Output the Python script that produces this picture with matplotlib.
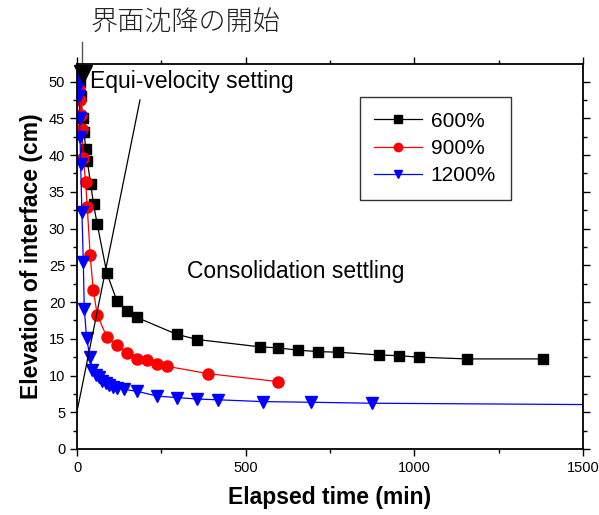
import matplotlib
matplotlib.use("Agg")
import matplotlib.pyplot as plt
from matplotlib.ticker import MultipleLocator

plt.rcParams['font.family'] = ['Liberation Sans', 'DejaVu Sans']

# 600 %
t600 = [3, 8, 12, 16.7, 21.6, 25.6, 30.5, 40.4, 49, 60, 88.6, 118, 148.5, 178,
        296, 357, 543, 597, 655, 715, 774, 895, 954, 1014, 1156, 1382]
h600 = [51.0, 50.0, 48.0, 45.0, 43.1, 40.8, 39.2, 36.1, 33.3, 30.6, 23.9, 20.2, 18.8, 17.9,
        15.6, 14.9, 13.9, 13.76, 13.45, 13.26, 13.17, 12.8, 12.7, 12.5, 12.26, 12.26]

# 900 %
t900 = [3, 6, 9, 12, 14.8, 18.7, 25.6, 30.5, 39, 48, 60, 88.6, 119, 148.5, 178,
        208.6, 238, 266.7, 387.7, 597]
h900 = [50.5, 49.0, 47.5, 45.5, 43.5, 39.6, 36.3, 32.9, 26.4, 21.7, 18.3, 15.2, 14.1, 13.1, 12.3,
        12.1, 11.6, 11.26, 10.26, 9.17]

# 1200 %
t1200 = [2, 5, 6.8, 7.5, 8.9, 10.8, 14.5, 18.7, 21.6, 28.5, 38.4, 45, 55, 65, 74.8, 85.6,
         95.5, 108, 120, 139.7, 178, 237, 296, 357, 417, 552, 695, 874]
h1200 = [50.5, 49.5, 48.0, 45.0, 42.5, 38.8, 32.3, 25.5, 19.1, 15.1, 12.5, 10.8, 10.1, 9.77, 9.26, 8.95,
         8.72, 8.5, 8.35, 8.1, 7.86, 7.2, 7.0, 6.8, 6.7, 6.45, 6.36, 6.23]
# fitted tail of the 1200 % curve
t1200_tail = [874, 1500]
h1200_tail = [6.23, 6.05]

# onset of interface settling and the equal-velocity tangent
t_onset, h_onset = 18.7, 51.0
t_equi = [0, 186.7]
h_equi = [5.1, 47.5]

fig = plt.figure(figsize=(5.99, 5.15), dpi=100)
ax = fig.add_axes([77/599, 1-449/515, (583-77)/599, (449-64)/515])

ax.plot(t600, h600, color='black', lw=0.9, marker='s', ms=7, label='600%')
ax.plot(t900, h900, color='#ff0000', lw=0.9, marker='o', ms=8, label='900%')
ax.plot(t1200, h1200, color='#0000ff', lw=0.9, marker='v', ms=8, label='1200%')
ax.plot(t1200_tail, h1200_tail, color='#0000ff', lw=0.9)

ax.plot(t_equi, h_equi, color='black', lw=0.9)
ax.plot([t_onset], [h_onset], marker='v', color='black', ms=13, clip_on=False, zorder=5)
ax.plot([15, 15], [51.5, 55.4], color='#555555', lw=1.0, clip_on=False)

ax.text(38, 50.0, 'Equi-velocity setting', fontsize=16.5, ha='left', va='center')
ax.text(649, 24.2, 'Consolidation settling', fontsize=16.5, ha='center', va='center')
fig.text(186/599, 1-23/515, '界面沈降の開始', fontsize=19.5, ha='center', va='center',
         family=['Noto Sans CJK JP', 'DejaVu Sans'], fontweight='light', color='#222222')

ax.set_xlim(0, 1500)
ax.set_ylim(0, 52.4)
ax.xaxis.set_major_locator(MultipleLocator(500))
ax.xaxis.set_minor_locator(MultipleLocator(250))
ax.yaxis.set_major_locator(MultipleLocator(5))
ax.yaxis.set_minor_locator(MultipleLocator(2.5))
ax.tick_params(which='both', direction='out', top=True, right=True, labelsize=10.5, width=1)
ax.tick_params(which='major', length=5)
ax.tick_params(which='minor', length=3)
for s in ax.spines.values():
    s.set_linewidth(1.3)

ax.set_xlabel('Elapsed time (min)', fontsize=16.5, fontweight='bold', labelpad=8)
ax.set_ylabel('Elevation of interface (cm)', fontsize=16.5, fontweight='bold', labelpad=4)

leg = ax.legend(loc='upper left', bbox_to_anchor=(0.559, 0.914), borderaxespad=0,
                fontsize=15, handlelength=2.3, handletextpad=0.4, labelspacing=0.4,
                borderpad=0.7, markerscale=0.75,
                fancybox=False, framealpha=1, edgecolor='#333333')
leg.get_frame().set_linewidth(1.0)

fig.savefig('out.png', dpi=100)
